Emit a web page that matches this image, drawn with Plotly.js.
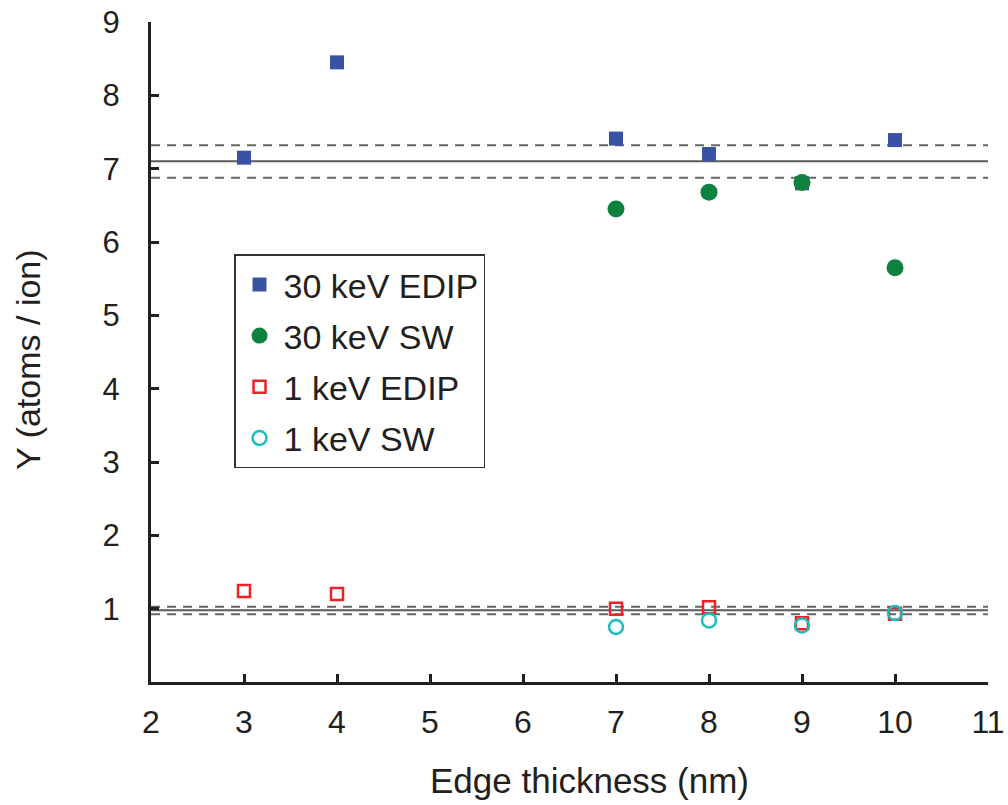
<!DOCTYPE html>
<html>
<head>
<meta charset="utf-8">
<script src="https://cdn.plot.ly/plotly-3.0.1.min.js"></script>
<style>html,body{margin:0;padding:0;background:#fff;}#chart{width:1008px;height:805px;}</style>
</head>
<body>
<div id="chart"></div>
<script>
// Data
const seriesNames = ["30 keV EDIP", "30 keV SW", "1 keV EDIP", "1 keV SW"];
const edip30X = [3, 4, 7, 8, 9, 10];
const edip30Y = [7.15, 8.45, 7.41, 7.20, 6.80, 7.39];
const sw30X = [7, 8, 9, 10];
const sw30Y = [6.45, 6.68, 6.81, 5.65];
const edip1X = [3, 4, 7, 8, 9, 10];
const edip1Y = [1.24, 1.20, 1.00, 1.02, 0.80, 0.93];
const sw1X = [7, 8, 9, 10];
const sw1Y = [0.75, 0.84, 0.77, 0.94];
// Reference levels: mean and mean ± spread
const meanLevels = [7.10, 0.98];
const upperLevels = [7.32, 1.025];
const lowerLevels = [6.875, 0.925];
const xTicks = [2, 3, 4, 5, 6, 7, 8, 9, 10, 11];
const yTicks = [1, 2, 3, 4, 5, 6, 7, 8, 9];

const FONT = "Liberation Sans, Arial, sans-serif";
const INK = "#231f20";

const traces = [
  {x: edip30X, y: edip30Y, name: seriesNames[0], mode: "markers", type: "scatter", legendgroup: "a",
   marker: {symbol: "square", size: 14, color: "#3953a4", line: {width: 0}}},
  {x: sw30X, y: sw30Y, name: seriesNames[1], mode: "markers", type: "scatter", legendgroup: "b",
   marker: {symbol: "circle", size: 17, color: "#0d823f", line: {width: 0}}},
  {x: edip1X, y: edip1Y, name: seriesNames[2], mode: "markers", type: "scatter", legendgroup: "c",
   marker: {symbol: "square-open", size: 12, color: "#ee2128", line: {width: 2.5, color: "#ee2128"}}},
  {x: sw1X, y: sw1Y, name: seriesNames[3], mode: "markers", type: "scatter", legendgroup: "d",
   marker: {symbol: "circle-open", size: 14, color: "#1fbcbc", line: {width: 2.5, color: "#1fbcbc"}}}
];

const shapes = [];
meanLevels.forEach(v => shapes.push({type: "line", xref: "paper", yref: "y", x0: 0, x1: 1, y0: v, y1: v,
  layer: "below", line: {color: "#5a5a5a", width: 2}}));
upperLevels.concat(lowerLevels).forEach(v => shapes.push({type: "line", xref: "paper", yref: "y", x0: 0, x1: 1, y0: v, y1: v,
  layer: "below", line: {color: "#666666", width: 2, dash: "9px,7px"}}));

const layout = {
  width: 1008, height: 805,
  margin: {l: 151, r: 20, t: 22, b: 123, pad: 0},
  paper_bgcolor: "#fff", plot_bgcolor: "#fff",
  showlegend: true,
  font: {family: FONT, color: INK},
  xaxis: {
    range: [2, 11], tickvals: xTicks, ticktext: xTicks.map(String),
    showgrid: false, zeroline: false,
    showline: true, linecolor: INK, linewidth: 3,
    ticks: "inside", ticklen: 8, tickwidth: 3, tickcolor: INK,
    tickfont: {family: FONT, size: 32, color: INK},
    ticklabelstandoff: 10
  },
  yaxis: {
    range: [0, 9], tickvals: yTicks, ticktext: yTicks.map(String),
    showgrid: false, zeroline: false,
    showline: true, linecolor: INK, linewidth: 3,
    ticks: "inside", ticklen: 8, tickwidth: 3, tickcolor: INK,
    tickfont: {family: FONT, size: 31, color: INK},
    ticklabelstandoff: 22
  },
  legend: {
    x: 0.0992, y: 0.648, xanchor: "left", yanchor: "top",
    bgcolor: "#fff", bordercolor: "#333", borderwidth: 1.5,
    font: {family: FONT, size: 34, color: INK},
    tracegroupgap: 4, itemwidth: 38
  },
  annotations: [
    {text: "Edge thickness (nm)", xref: "paper", yref: "paper", x: 0.5233, y: -0.15, xanchor: "center", yanchor: "middle",
     showarrow: false, font: {family: FONT, size: 35, color: INK}},
    {text: "Y (atoms / ion)", xref: "paper", yref: "paper", x: -0.147, y: 0.488, xanchor: "center", yanchor: "middle",
     textangle: -90, showarrow: false, font: {family: FONT, size: 34, color: INK}}
  ],
  shapes: shapes
};

Plotly.newPlot("chart", traces, layout, {displayModeBar: false, staticPlot: true});
</script>
</body>
</html>
